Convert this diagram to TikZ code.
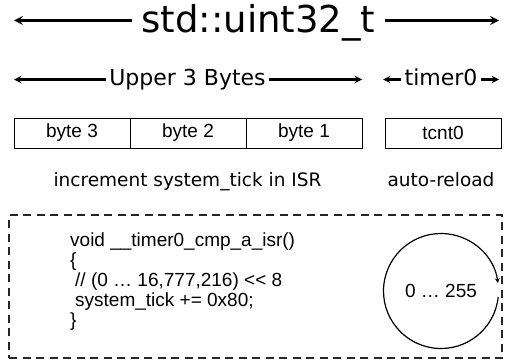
\documentclass[tikz,border=0pt]{standalone}
\usepackage{fontspec}
\setmainfont{Liberation Sans}
\newfontfamily\labelfont{DejaVu Sans}
\usetikzlibrary{positioning, arrows}
\tikzstyle{title} = [font=\labelfont\fontsize{37}{40}\selectfont, text height=28pt, text depth=3pt, inner ysep=0pt, inner xsep=9pt]
\tikzstyle{part} = [font=\labelfont\fontsize{22}{24}\selectfont, text height=16pt, text depth=5pt, inner ysep=0pt, inner xsep=3pt]
\tikzstyle{note} = [font=\labelfont\fontsize{18.5}{20}\selectfont, inner sep=0pt]
\tikzstyle{byte} = [rectangle, draw=black, line width=0.9pt, minimum width=116pt, minimum height=30pt, inner sep=0pt, outer sep=0pt, font=\fontsize{19}{20}\selectfont]
\tikzstyle{code} = [align=left, inner sep=0pt, font=\fontsize{19}{20}\selectfont]
\tikzstyle{frame} = [rectangle, draw=black!85, line width=1.1pt, dash pattern=on 8pt off 5.5pt, minimum width=493pt, minimum height=143pt]
\tikzstyle{arrow} = [line width=2.8pt,->,>=stealth]
\tikzstyle{arrowt} = [line width=2.2pt,->,>=stealth]

\begin{document}
\begin{tikzpicture}[x=1pt, y=1pt]
\useasboundingbox (0,0) rectangle (505,-361);

%Whole word
\node (uint) [title] at (258.5,-20.5) {std::uint32\_t};
\coordinate (uint_l) at (14,-20.5);
\coordinate (uint_r) at (499,-20.5);
\draw [arrow] (uint.west) -- (uint_l);
\draw [arrow] (uint.east) -- (uint_r);

%Upper bytes and timer
\node (upper) [part] at (187.5,-79.5) {Upper 3 Bytes};
\coordinate (upper_l) at (14,-79.5);
\coordinate (upper_r) at (362,-79.5);
\draw [arrowt] (upper.west) -- (upper_l);
\draw [arrowt] (upper.east) -- (upper_r);

\node (timer) [part] at (441,-79.5) {timer0};
\coordinate (timer_l) at (383,-79.5);
\coordinate (timer_r) at (499,-79.5);
\draw [arrowt] (timer.west) -- (timer_l);
\draw [arrowt] (timer.east) -- (timer_r);

%Bytes
\node (byte3) [byte] at (72,-133) {byte 3};
\node (byte2) [byte, right=0pt of byte3] {byte 2};
\node (byte1) [byte, right=0pt of byte2] {byte 1};
\node (tcnt) [byte, right=23pt of byte1] {tcnt0};

%Notes
\node (tick_note) [note, anchor=base] at (187.5,-186) {increment system\_tick in ISR};
\node (reload_note) [note, anchor=base] at (441,-186) {auto-reload};

%ISR
\node (isr_frame) [frame] at (255.5,-286.5) {};
\node (isr_code) [code, anchor=north west] at (70,-233) {void \_\_timer0\_cmp\_a\_isr()\\
\{\\
\hspace*{5pt}// (0 … 16,777,216) <{}< 8\\
\hspace*{5pt}system\_tick += 0x80;\\
\}};

%Counter
\node (counter) [font=\fontsize{19}{20}\selectfont] at (441,-291) {0 … 255};
\draw [line width=1.2pt,->,>=stealth] ([shift={(-6:57.5)}]counter.center) arc[start angle=-6, end angle=-352, radius=57.5];

\end{tikzpicture}
\end{document}
